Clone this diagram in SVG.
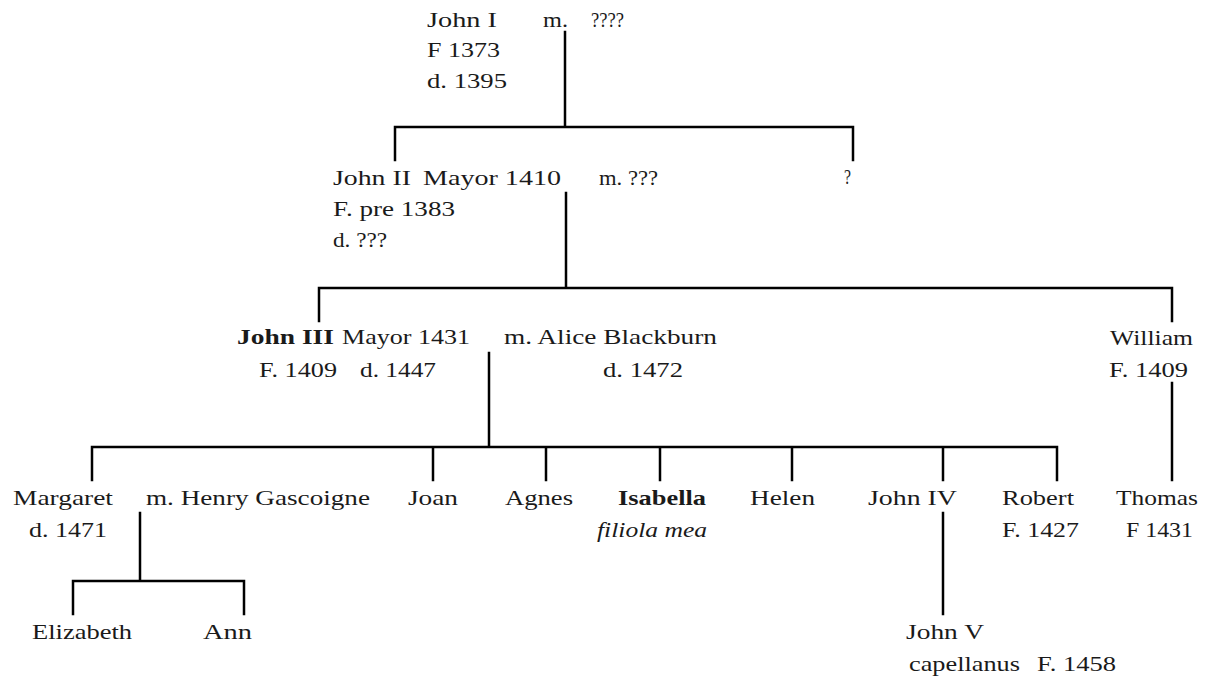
<svg xmlns="http://www.w3.org/2000/svg" width="1213" height="679" viewBox="0 0 1213 679">
<style>
text{font-family:'Liberation Serif','DejaVu Serif','Times New Roman',serif;font-size:22px;fill:#1a1a1a;}
.b{font-weight:bold;}
.i{font-style:italic;}
.c{fill:none;stroke:#000;stroke-width:2.5;stroke-linecap:square;}
</style>
<rect width="1213" height="679" fill="#fff"/>
<g id="connectors">
<path class="c" d="M565,32V127M395,127H853M395,127V160M853,127V160"/>
<path class="c" d="M566,193V288M319,288H1172M319,288V321M1172,288V321"/>
<path class="c" d="M489,353V447M92,447H1057M92,447V480M433,447V480M546,447V480M660,447V480M792,447V480M943,447V480M1057,447V480"/>
<path class="c" d="M1172,383V480"/>
<path class="c" d="M140,513V581M73,581H244M73,581V614M244,581V614"/>
<path class="c" d="M943,513V614"/>
</g>
<g font-family="Liberation Serif, DejaVu Serif, serif">
<g id="john1">
<text x="427" y="27" textLength="70" lengthAdjust="spacingAndGlyphs">John I</text>
<text x="543" y="27" textLength="25" lengthAdjust="spacingAndGlyphs">m.</text>
<text x="591" y="27" textLength="33" lengthAdjust="spacingAndGlyphs">????</text>
<text x="427" y="57" textLength="73" lengthAdjust="spacingAndGlyphs">F 1373</text>
<text x="427" y="88" textLength="80" lengthAdjust="spacingAndGlyphs">d. 1395</text>
</g>
<g id="john2">
<text x="333" y="185" textLength="78" lengthAdjust="spacingAndGlyphs">John II</text>
<text x="423" y="185" textLength="138" lengthAdjust="spacingAndGlyphs">Mayor 1410</text>
<text x="599" y="185" textLength="59" lengthAdjust="spacingAndGlyphs">m. ???</text>
<text x="333" y="216" textLength="122" lengthAdjust="spacingAndGlyphs">F. pre 1383</text>
<text x="333" y="247" textLength="54" lengthAdjust="spacingAndGlyphs">d. ???</text>
</g>
<g id="unknown">
<text x="844" y="184" textLength="7" lengthAdjust="spacingAndGlyphs">?</text>
</g>
<g id="john3">
<text class="b" x="237" y="344" textLength="97" lengthAdjust="spacingAndGlyphs">John III</text>
<text x="342" y="344" textLength="128" lengthAdjust="spacingAndGlyphs">Mayor 1431</text>
<text x="504" y="344" textLength="213" lengthAdjust="spacingAndGlyphs">m. Alice Blackburn</text>
<text x="259" y="377" textLength="78" lengthAdjust="spacingAndGlyphs">F. 1409</text>
<text x="360" y="377" textLength="76" lengthAdjust="spacingAndGlyphs">d. 1447</text>
<text x="603" y="377" textLength="80" lengthAdjust="spacingAndGlyphs">d. 1472</text>
</g>
<g id="william">
<text x="1110" y="345" textLength="83" lengthAdjust="spacingAndGlyphs">William</text>
<text x="1109" y="377" textLength="79" lengthAdjust="spacingAndGlyphs">F. 1409</text>
</g>
<g id="margaret">
<text x="13" y="505" textLength="100" lengthAdjust="spacingAndGlyphs">Margaret</text>
<text x="146" y="505" textLength="224" lengthAdjust="spacingAndGlyphs">m. Henry Gascoigne</text>
<text x="29" y="537" textLength="78" lengthAdjust="spacingAndGlyphs">d. 1471</text>
</g>
<g id="joan"><text x="408" y="505" textLength="50" lengthAdjust="spacingAndGlyphs">Joan</text></g>
<g id="agnes"><text x="505" y="505" textLength="68" lengthAdjust="spacingAndGlyphs">Agnes</text></g>
<g id="isabella">
<text class="b" x="618" y="505" textLength="88" lengthAdjust="spacingAndGlyphs">Isabella</text>
<text class="i" x="597" y="537" textLength="110" lengthAdjust="spacingAndGlyphs">filiola mea</text>
</g>
<g id="helen"><text x="750" y="505" textLength="65" lengthAdjust="spacingAndGlyphs">Helen</text></g>
<g id="john4"><text x="868" y="505" textLength="89" lengthAdjust="spacingAndGlyphs">John IV</text></g>
<g id="robert">
<text x="1002" y="505" textLength="72" lengthAdjust="spacingAndGlyphs">Robert</text>
<text x="1002" y="537" textLength="77" lengthAdjust="spacingAndGlyphs">F. 1427</text>
</g>
<g id="thomas">
<text x="1116" y="505" textLength="82" lengthAdjust="spacingAndGlyphs">Thomas</text>
<text x="1126" y="537" textLength="67" lengthAdjust="spacingAndGlyphs">F 1431</text>
</g>
<g id="elizabeth"><text x="32" y="639" textLength="100" lengthAdjust="spacingAndGlyphs">Elizabeth</text></g>
<g id="ann"><text x="203" y="639" textLength="49" lengthAdjust="spacingAndGlyphs">Ann</text></g>
<g id="john5">
<text x="906" y="639" textLength="78" lengthAdjust="spacingAndGlyphs">John V</text>
<text x="909" y="671" textLength="111" lengthAdjust="spacingAndGlyphs">capellanus</text>
<text x="1037" y="671" textLength="79" lengthAdjust="spacingAndGlyphs">F. 1458</text>
</g>
</g>
</svg>
